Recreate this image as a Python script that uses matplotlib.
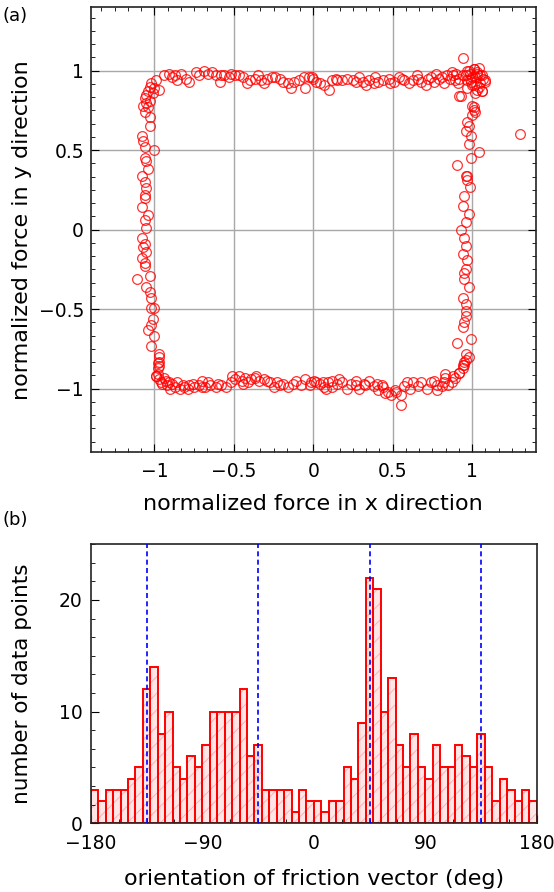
import numpy as np
import matplotlib
matplotlib.use('Agg')
import matplotlib.pyplot as plt
from matplotlib.ticker import MultipleLocator, AutoMinorLocator

# Dados (a): pontos da forca normalizada, por lado do quadrado
left_x = [-0.99, -1.02, -1.03, -1.00, -0.97, -1.04, -1.05, -1.01, -1.06, -1.03, -1.05, -1.07,
          -1.04, -1.06, -1.03, -1.03, -1.08, -1.07, -1.06, -1.00, -1.06, -1.05, -1.04, -1.08,
          -1.06, -1.06, -1.06, -1.08, -1.04, -1.06, -1.05, -1.08, -1.06, -1.05, -1.08, -1.06,
          -1.06, -1.03, -1.11, -1.05, -1.03, -1.02, -1.02, -1.00, -1.01, -1.02, -1.04, -1.00,
          -1.02, -0.97, -0.98, -0.97, -0.98, -0.99, -0.97, -1.05, -1.07]
left_y = [0.94, 0.92, 0.90, 0.89, 0.88, 0.87, 0.85, 0.86, 0.83, 0.81, 0.80, 0.78,
          0.77, 0.74, 0.71, 0.65, 0.59, 0.56, 0.52, 0.50, 0.45, 0.43, 0.38, 0.34,
          0.30, 0.22, 0.20, 0.14, 0.09, 0.06, 0.01, -0.05, -0.09, -0.14, -0.18, -0.21,
          -0.23, -0.29, -0.31, -0.36, -0.39, -0.43, -0.49, -0.49, -0.56, -0.60, -0.63, -0.67,
          -0.73, -0.78, -0.84, -0.86, -0.91, -0.92, -0.80, 0.26, -0.11]

top_x = [-0.94, -0.91, -0.89, -0.87, -0.86, -0.78, -0.74, -0.72, -0.69, -0.66, -0.61, -0.59,
         -0.58, -0.56, -0.52, -0.49, -0.47, -0.44, -0.42, -0.40, -0.37, -0.35, -0.31, -0.29,
         -0.26, -0.24, -0.21, -0.19, -0.16, -0.14, -0.12, -0.09, -0.06, -0.05, -0.03, -0.01,
         0.00, 0.02, 0.04, 0.07, 0.10, 0.12, 0.15, 0.18, 0.21, 0.25, 0.29, 0.31,
         0.33, 0.35, 0.38, 0.41, 0.44, 0.475, 0.51, 0.54, 0.57, 0.60, 0.63, 0.66,
         0.68, 0.71, 0.74, 0.77, 0.79, 0.82, 0.84, 0.87, 0.89, 0.92, 0.94, 0.94,
         0.965, 0.985, 1.01, 1.03, 1.05, 1.07, 1.01, 1.03, 1.06, 0.965, 0.985, 1.02,
         1.08, 0.98, 1.01, 1.03, 1.06, 1.08, 1.05, 1.00, 1.02, 1.06, 0.93, 0.90,
         0.92, 0.96, 0.99, 1.04, 0.97, 1.00, 1.04, 0.88, 0.91, 0.86, 0.81, 0.76,
         0.72, 0.65, 0.56, 0.48, 0.39, 0.27, 0.14, -0.83, -0.80, -0.64, -0.53, -0.33]
top_y = [0.97, 0.98, 0.96, 0.97, 0.94, 0.93, 0.99, 0.97, 1.00, 0.98, 0.97, 0.93,
         0.97, 0.97, 0.98, 0.97, 0.97, 0.96, 0.92, 0.94, 0.95, 0.97, 0.92, 0.95,
         0.96, 0.96, 0.95, 0.93, 0.92, 0.89, 0.93, 0.94, 0.96, 0.89, 0.96, 0.96,
         0.95, 0.93, 0.92, 0.91, 0.88, 0.94, 0.94, 0.94, 0.95, 0.94, 0.96, 0.93,
         0.91, 0.94, 0.92, 0.93, 0.94, 0.95, 0.93, 0.96, 0.94, 0.92, 0.94, 0.95,
         0.93, 0.91, 0.96, 0.98, 0.95, 0.92, 0.97, 0.99, 0.94, 0.84, 1.08, 0.97,
         1.00, 0.98, 1.01, 0.99, 0.97, 0.95, 0.91, 0.88, 0.87, 0.94, 0.95, 0.96,
         0.93, 1.00, 1.01, 0.98, 0.97, 0.94, 0.92, 0.91, 0.86, 0.87, 0.84, 0.98,
         0.95, 0.97, 0.93, 1.02, 0.89, 0.96, 0.90, 0.97, 0.92, 0.95, 0.96, 0.93,
         0.95, 0.97, 0.95, 0.92, 0.96, 0.93, 0.95, 0.98, 0.95, 0.99, 0.96, 0.94]

right_x = [1.00, 1.01, 1.01, 1.02, 1.00, 0.97, 0.98, 0.96, 0.99, 0.98, 1.04, 0.905,
           0.99, 0.97, 0.96, 0.985, 0.95, 0.94, 0.98, 0.96, 0.93, 0.95, 0.96, 0.94,
           0.97, 0.96, 0.95, 0.98, 0.94, 0.96, 0.96, 0.95, 0.94, 0.905, 0.99, 0.96,
           0.95, 0.94, 0.92, 0.88, 0.83, 0.82, 0.78, 0.76, 1.30, 0.97, 0.95, 0.96]
right_y = [0.78, 0.75, 0.77, 0.74, 0.72, 0.68, 0.65, 0.62, 0.59, 0.54, 0.49, 0.41,
           0.45, 0.34, 0.34, 0.27, 0.21, 0.15, 0.10, 0.05, 0.00, -0.05, -0.10, -0.15,
           -0.19, -0.245, -0.31, -0.36, -0.43, -0.51, -0.54, -0.58, -0.61, -0.715, -0.69, -0.78,
           -0.83, -0.85, -0.90, -0.92, -0.91, -0.955, -0.98, -0.95, 0.60, 0.31, -0.27, -0.47]

bottom_x = [-0.97, -0.98, -0.99, -0.97, -0.96, -0.93, -0.92, -0.89, -0.87, -0.84, -0.815, -0.78,
            -0.75, -0.72, -0.70, -0.68, -0.65, -0.615, -0.58, -0.55, -0.52, -0.51, -0.49, -0.47,
            -0.45, -0.43, -0.39, -0.36, -0.34, -0.31, -0.29, -0.25, -0.21, -0.19, -0.16, -0.13,
            -0.11, -0.08, -0.05, -0.015, 0.006, 0.04, 0.07, 0.09, 0.12, 0.15, 0.06, 0.08,
            0.12, 0.16, 0.18, 0.21, 0.24, 0.27, 0.29, 0.325, 0.35, 0.38, 0.41, 0.43,
            0.45, 0.47, 0.49, 0.515, 0.55, 0.55, 0.57, 0.59, 0.61, 0.63, 0.66, 0.68,
            0.715, 0.74, 0.78, 0.81, 0.83, 0.85, 0.87, 0.895, 0.915, 0.94, 0.95, 0.96,
            0.98, -0.95, -0.94, -0.91, -0.90, -0.86, -0.82, -0.79, -0.76, -0.70, -0.66, -0.60,
            -0.44, -0.41, -0.37, -0.27, -0.23, -0.02, 0.02, 0.27, 0.32, 0.40, 0.44, 0.52]
bottom_y = [-0.83, -0.87, -0.92, -0.94, -0.96, -0.95, -0.98, -0.97, -0.99, -1.00, -0.99, -0.98,
            -0.99, -0.98, -0.95, -0.99, -0.98, -0.99, -0.98, -0.99, -0.96, -0.92, -0.94, -0.92,
            -0.95, -0.93, -0.94, -0.92, -0.95, -0.94, -0.95, -0.99, -0.98, -0.97, -0.99, -0.97,
            -0.95, -0.98, -0.94, -0.96, -0.95, -0.97, -0.99, -0.96, -0.99, -0.97, -0.96, -1.00,
            -0.95, -0.94, -0.96, -1.00, -0.97, -0.95, -1.00, -0.975, -0.95, -0.985, -1.01, -0.975,
            -1.03, -1.02, -1.04, -1.01, -1.10, -1.04, -0.985, -0.96, -1.00, -0.96, -0.985, -0.955,
            -1.00, -0.96, -1.01, -0.985, -0.93, -0.975, -0.955, -0.93, -0.90, -0.87, -0.85, -0.82,
            -0.80, -0.97, -0.93, -0.96, -1.00, -0.96, -0.98, -1.00, -0.97, -0.99, -0.96, -0.97,
            -0.97, -0.96, -0.93, -0.96, -0.96, -0.98, -0.96, -0.98, -0.97, -0.97, -0.99, -1.02]

# Dados (b): histograma da orientacao (bins de 6 graus)
bin_edges = np.arange(-180, 181, 6)
counts = [3, 2, 3, 3, 3, 4, 5, 12, 14, 8, 10, 5, 4, 6, 5, 7, 10, 10, 10, 10,
          12, 6, 7, 3, 3, 3, 3, 1, 3, 2, 2, 1, 2, 2, 5, 4, 9, 22, 21, 10,
          13, 7, 5, 8, 5, 4, 7, 5, 5, 7, 6, 5, 8, 5, 2, 4, 3, 2, 3, 2]
diag_angles = [-135, -45, 45, 135]

plt.rcParams['font.family'] = ['DejaVu Sans']
plt.rcParams['hatch.linewidth'] = 0.7

fig = plt.figure(figsize=(5.54, 8.92), dpi=100)

# --- (a) dispersao ---
ax1 = fig.add_axes([0.164, 0.493, 0.803, 0.499])
px = left_x + top_x + right_x + bottom_x
py = left_y + top_y + right_y + bottom_y
ax1.plot(px, py, 'o', mfc='none', mec='red', ms=7, mew=0.9, alpha=0.8, zorder=3)
ax1.set_xlim(-1.4, 1.4)
ax1.set_ylim(-1.4, 1.4)
ax1.set_xticks([-1, -0.5, 0, 0.5, 1])
ax1.set_yticks([-1, -0.5, 0, 0.5, 1])
ax1.set_xticklabels(['\u22121', '\u22120.5', '0', '0.5', '1'])
ax1.set_yticklabels(['\u22121', '\u22120.5', '0', '0.5', '1'])
ax1.xaxis.set_minor_locator(AutoMinorLocator(6))
ax1.yaxis.set_minor_locator(AutoMinorLocator(6))
ax1.grid(True, color='#a8a8a8', lw=1.0, zorder=0)
ax1.tick_params(which='both', direction='in', top=True, right=True, labelsize=13.5)
ax1.tick_params(axis='x', pad=7)
ax1.tick_params(axis='y', pad=5)
ax1.tick_params(which='major', length=6)
ax1.tick_params(which='minor', length=3)
ax1.set_xlabel('normalized force in x direction', fontsize=16, va='center')
ax1.set_ylabel('normalized force in y direction', fontsize=16, va='center')
ax1.xaxis.set_label_coords(0.5, -0.117)
ax1.yaxis.set_label_coords(-0.155, 0.5)

# --- (b) histograma ---
ax2 = fig.add_axes([0.164, 0.077, 0.805, 0.313])
left_edges = bin_edges[:-1]
ax2.bar(left_edges, counts, width=6, align='edge', facecolor='#ffe6e6',
        edgecolor='#ffb0b0', hatch='//', lw=0, zorder=1)
ax2.bar(left_edges, counts, width=6, align='edge', fill=False,
        edgecolor='red', lw=1.4, zorder=2)
for a in diag_angles:
    ax2.axvline(a, color='blue', ls=(0, (3, 2)), lw=1.2, zorder=3)
ax2.set_xlim(-180, 180)
ax2.set_ylim(0, 25)
ax2.set_xticks([-180, -90, 0, 90, 180])
ax2.set_xticklabels(['\u2212180', '\u221290', '0', '90', '180'])
ax2.set_yticks([0, 10, 20])
ax2.xaxis.set_minor_locator(MultipleLocator(22.5))
ax2.yaxis.set_minor_locator(AutoMinorLocator(6))
ax2.tick_params(which='both', direction='in', labelsize=13.5)
ax2.tick_params(axis='x', pad=8)
ax2.tick_params(axis='y', pad=6)
ax2.tick_params(which='major', length=6)
ax2.tick_params(which='minor', length=3)
ax2.set_xlabel('orientation of friction vector (deg)', fontsize=16, va='center')
ax2.set_ylabel('number of data points', fontsize=15.5, va='center')
ax2.xaxis.set_label_coords(0.5, -0.2)
ax2.yaxis.set_label_coords(-0.155, 0.5)

for ax in (ax1, ax2):
    for s in ax.spines.values():
        s.set_linewidth(1.2)
        s.set_color('#222222')

fig.text(0.004, 0.977, '(a)', fontsize=13)
fig.text(0.004, 0.411, '(b)', fontsize=13)

fig.savefig('out.png', dpi=100)
